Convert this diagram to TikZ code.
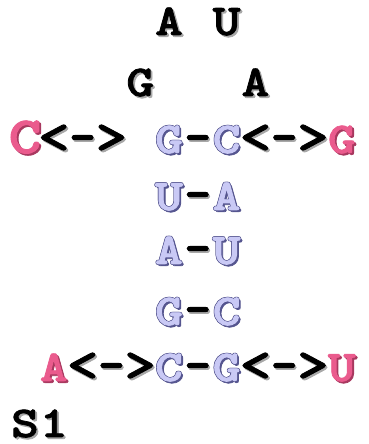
\documentclass[tikz,border=0pt]{standalone}
\usepackage{fontspec}
\newfontfamily\seqfont{lmmonolt10-bold.otf}[FakeBold=1.6]
\definecolor{pinkfill}{HTML}{EA5B8D}
\definecolor{pinkshade}{HTML}{A8385F}
\definecolor{lavfill}{HTML}{C9C9F5}
\definecolor{lavline}{HTML}{55558F}
\definecolor{inkfill}{HTML}{000000}
\definecolor{inkshade}{HTML}{A8A8A8}
\newlength\cellw
\setlength\cellw{28.8pt}
% one coloured copy of a glyph, shifted by (#1,#2), taking no width
\newcommand\glyphlayer[4]{\makebox[0pt][l]{\kern#1\raisebox{#2}{\textcolor{#3}{#4}}}}
% every glyph sits centred in a fixed-width cell, widened to a Courier-like face
\newcommand\cellof[2][1.2]{\makebox[\cellw][c]{\scalebox{#1}[1]{#2}}}
% black glyph with a grey drop shadow
\newcommand\ink[1]{\cellof{\glyphlayer{1.5pt}{-1.8pt}{inkshade}{#1}\textcolor{inkfill}{#1}}}
% black bond sign in a wider cut: #1 is its horizontal stretch
\newcommand\bond[2][1.35]{\cellof[#1]{\scalebox{1}[1.15]{\glyphlayer{1.2pt}{-1.6pt}{inkshade}{#2}\textcolor{inkfill}{#2}}}}
\newcommand\dash{\bond[1.15]{-}}
% pink glyph with a darker drop shadow
\newcommand\pnk[1]{\cellof{\glyphlayer{1.5pt}{-1.8pt}{pinkshade}{#1}\textcolor{pinkfill}{#1}}}
% lavender glyph with a thin dark outline and drop shadow
\newcommand\lav[1]{\cellof{%
  \glyphlayer{1.5pt}{-1.8pt}{lavline}{#1}%
  \glyphlayer{0.45pt}{0.5pt}{lavline}{#1}%
  \glyphlayer{-0.45pt}{0.5pt}{lavline}{#1}%
  \glyphlayer{0.45pt}{-0.5pt}{lavline}{#1}%
  \glyphlayer{-0.45pt}{-0.5pt}{lavline}{#1}%
  \textcolor{lavfill}{#1}}}
\newcommand\blank{\hspace*{\cellw}}
\newcommand\bigC{{\fontsize{52}{52}\selectfont\pnk{C}}}
\begin{document}
\begin{tikzpicture}[x=1pt,y=1pt,
  seqrow/.style={anchor=base west,inner sep=0pt,outer sep=0pt,
    font=\seqfont\fontsize{44}{44}\selectfont}]
\useasboundingbox (0,0) rectangle (368,444);
\def\lx{10.6}
\node[seqrow] (loopA) at (\lx,444-35) {\blank\blank\blank\blank\blank\ink{A}\blank\ink{U}};
\node[seqrow] (loopB) at (\lx,444-96) {\blank\blank\blank\blank\ink{G}\blank\blank\blank\ink{A}};
\node[seqrow] (junction) at (\lx,444-153) {\bigC\bond{<}\dash\bond{>}\blank\lav{G}\dash\lav{C}\bond{<}\dash\bond{>}\pnk{G}};
\node[seqrow] (stemA) at (\lx,444-210) {\blank\blank\blank\blank\blank\lav{U}\dash\lav{A}};
\node[seqrow] (stemB) at (\lx,444-264) {\blank\blank\blank\blank\blank\lav{A}\dash\lav{U}};
\node[seqrow] (stemC) at (\lx,444-325) {\blank\blank\blank\blank\blank\lav{G}\dash\lav{C}};
\node[seqrow] (base) at (\lx,444-381) {\blank\pnk{A}\bond{<}\dash\bond{>}\lav{C}\dash\lav{G}\bond{<}\dash\bond{>}\pnk{U}};
\node[seqrow] (label) at (\lx,444-437) {\ink{S}\ink{1}};
\end{tikzpicture}
\end{document}
